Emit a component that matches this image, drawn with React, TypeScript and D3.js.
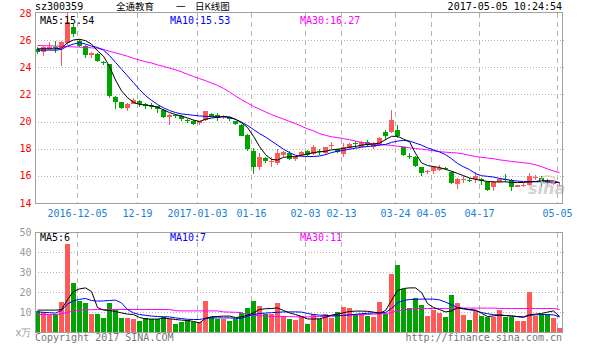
import * as d3 from "d3";

// trading days shown (88 sessions)
const dates = [
  "2016-11-24", "2016-11-25", "2016-11-28", "2016-11-29", "2016-11-30", "2016-12-01", "2016-12-02",
  "2016-12-05", "2016-12-06", "2016-12-07", "2016-12-08", "2016-12-09", "2016-12-12", "2016-12-13", "2016-12-14", "2016-12-15", "2016-12-16",
  "2016-12-19", "2016-12-20", "2016-12-21", "2016-12-22", "2016-12-23", "2016-12-26", "2016-12-27", "2016-12-28", "2016-12-29", "2016-12-30",
  "2017-01-03", "2017-01-04", "2017-01-05", "2017-01-06", "2017-01-09", "2017-01-10", "2017-01-11", "2017-01-12", "2017-01-13",
  "2017-01-16", "2017-01-17", "2017-01-18", "2017-01-19", "2017-01-20", "2017-01-23", "2017-01-24", "2017-01-25", "2017-01-26",
  "2017-02-03", "2017-02-06", "2017-02-07", "2017-02-08", "2017-02-09", "2017-02-10",
  "2017-02-13", "2017-02-14", "2017-02-15", "2017-02-16", "2017-02-17", "2017-02-20", "2017-02-21", "2017-02-22", "2017-02-23",
  "2017-03-24", "2017-03-27", "2017-03-28", "2017-03-29", "2017-03-30", "2017-03-31",
  "2017-04-05", "2017-04-06", "2017-04-07", "2017-04-10", "2017-04-11", "2017-04-12", "2017-04-13", "2017-04-14",
  "2017-04-17", "2017-04-18", "2017-04-19", "2017-04-20", "2017-04-21", "2017-04-24", "2017-04-25", "2017-04-26", "2017-04-27", "2017-04-28",
  "2017-05-02", "2017-05-03", "2017-05-04", "2017-05-05",
];

const open = [
  25.4, 25.2, 25.36, 25.55, 25.45, 25.8, 27.0, 26.0, 25.6, 24.95,
  25.05, 24.45, 24.25, 21.85, 21.5, 21.05, 21.35, 21.55, 21.35, 21.28,
  21.15, 20.9, 20.37, 20.5, 20.42, 20.15, 20.05, 19.93, 20.17, 20.62,
  20.5, 20.35, 20.35, 20.05, 19.8, 19.05, 17.9, 16.67, 17.35, 17.12,
  16.96, 17.55, 17.7, 17.28, 17.58, 17.9, 17.65, 17.85, 17.75, 18.28,
  18.0, 17.63, 18.07, 18.47, 18.2, 18.52, 18.2, 18.32, 19.3, 19.3,
  19.38, 18.15, 17.5, 17.46, 16.67, 16.33, 16.4, 16.5, 16.62, 16.35,
  15.43, 15.78, 15.75, 15.8, 15.78, 15.6, 15.18, 15.6, 15.8, 15.73,
  15.23, 15.34, 15.36, 15.88, 15.9, 15.68, 15.43, 15.34,
];
const high = [
  25.5, 25.6, 25.9, 25.95, 26.0, 28.1, 27.2, 26.1, 25.7, 25.2,
  25.1, 24.5, 24.3, 21.9, 21.5, 21.4, 21.75, 21.6, 21.4, 21.4,
  21.2, 20.95, 20.6, 20.6, 20.5, 20.25, 20.15, 20.1, 20.85, 20.7,
  20.65, 20.5, 20.4, 20.1, 19.85, 19.1, 18.1, 17.75, 17.4, 17.45,
  18.0, 17.85, 17.85, 17.5, 17.9, 17.95, 18.3, 18.05, 18.2, 18.55,
  18.05, 18.45, 18.45, 18.6, 18.6, 18.65, 18.5, 18.9, 19.4, 20.9,
  19.75, 18.2, 17.75, 17.5, 16.7, 16.5, 16.75, 16.8, 16.7, 16.4,
  15.85, 16.0, 15.9, 16.3, 15.85, 15.65, 15.65, 15.85, 16.17, 15.8,
  15.4, 15.52, 16.27, 16.1, 16.05, 15.8, 15.65, 15.5,
];
const low = [
  25.0, 24.9, 25.3, 25.1, 24.1, 25.7, 26.3, 25.5, 24.75, 24.75,
  24.4, 24.2, 21.8, 20.95, 20.95, 20.85, 21.3, 21.1, 21.0, 20.95,
  20.65, 20.3, 19.75, 20.3, 20.1, 19.95, 19.75, 19.8, 20.1, 20.35,
  20.1, 20.25, 20.1, 19.75, 18.95, 17.85, 16.2, 16.45, 16.95, 16.7,
  16.85, 17.45, 17.2, 17.15, 17.5, 17.5, 17.55, 17.6, 17.6, 18.0,
  17.7, 17.45, 18.0, 18.1, 18.15, 18.2, 18.0, 18.25, 18.7, 19.2,
  18.85, 17.5, 17.25, 16.7, 16.0, 16.15, 16.2, 16.4, 16.45, 15.45,
  15.05, 15.5, 15.55, 15.5, 15.4, 14.9, 14.9, 15.55, 15.6, 14.9,
  15.2, 15.18, 15.3, 15.7, 15.25, 15.4, 15.35, 15.2,
];
const close = [
  25.15, 25.5, 25.53, 25.45, 25.9, 27.4, 26.5, 25.6, 24.95, 25.1,
  24.5, 24.35, 21.95, 21.45, 21.05, 21.35, 21.6, 21.3, 21.2, 21.1,
  20.95, 20.35, 20.55, 20.45, 20.2, 20.1, 19.85, 20.05, 20.8, 20.4,
  20.3, 20.45, 20.2, 19.85, 19.0, 18.05, 16.7, 17.45, 17.15, 17.15,
  17.7, 17.78, 17.3, 17.45, 17.83, 17.6, 18.15, 17.8, 18.15, 18.32,
  17.8, 18.15, 18.37, 18.43, 18.52, 18.32, 18.45, 18.8, 19.0, 20.17,
  18.95, 17.6, 17.45, 16.77, 16.22, 16.37, 16.67, 16.6, 16.58, 15.53,
  15.8, 15.82, 15.71, 16.0, 15.68, 15.0, 15.6, 15.78, 15.75, 15.23,
  15.36, 15.37, 16.0, 15.92, 15.65, 15.62, 15.6, 15.38,
];

// price moving averages
const ma5 = [
  25.4, 25.4, 25.4, 25.4, 25.45, 25.85, 26.05, 26.1, 26.0, 25.75,
  25.25, 24.85, 24.1, 23.1, 22.3, 21.8, 21.45, 21.3, 21.25, 21.2,
  21.1, 20.9, 20.7, 20.55, 20.45, 20.3, 20.15, 20.05, 20.2, 20.3,
  20.35, 20.4, 20.38, 20.2, 19.95, 19.6, 18.95, 18.2, 17.6, 17.25,
  17.2, 17.4, 17.45, 17.45, 17.55, 17.65, 17.75, 17.8, 17.85, 17.95,
  18.0, 18.05, 18.15, 18.2, 18.3, 18.35, 18.38, 18.45, 18.7, 18.95,
  18.95, 18.75, 18.55, 17.7, 17.0, 16.8, 16.72, 16.65, 16.52, 16.38,
  16.22, 16.05, 15.88, 15.78, 15.7, 15.62, 15.6, 15.58, 15.6, 15.55,
  15.55, 15.55, 15.6, 15.62, 15.68, 15.68, 15.66, 15.54,
];
const ma10 = [
  25.3, 25.3, 25.3, 25.3, 25.35, 25.6, 25.75, 25.85, 25.75, 25.6,
  25.5, 25.3, 24.9, 24.4, 23.9, 23.4, 22.9, 22.4, 21.95, 21.6,
  21.3, 21.05, 20.85, 20.7, 20.6, 20.55, 20.5, 20.45, 20.42, 20.4,
  20.4, 20.38, 20.35, 20.2, 20.0, 19.75, 19.45, 19.15, 18.9, 18.6,
  18.3, 18.0, 17.75, 17.55, 17.48, 17.46, 17.46, 17.5, 17.6, 17.75,
  17.85, 17.92, 18.0, 18.07, 18.15, 18.2, 18.25, 18.3, 18.35, 18.5,
  18.6, 18.65, 18.6, 18.45, 18.3, 18.1, 17.95, 17.8, 17.6, 17.3,
  16.95, 16.7, 16.5, 16.2, 16.05, 16.0, 15.95, 15.85, 15.78, 15.7,
  15.65, 15.62, 15.6, 15.6, 15.6, 15.58, 15.56, 15.53,
];
const ma30 = [
  25.65, 25.63, 25.62, 25.6, 25.58, 25.56, 25.54, 25.52, 25.5, 25.47,
  25.44, 25.35, 25.22, 25.1, 24.98, 24.85, 24.7, 24.57, 24.45, 24.35,
  24.22, 24.1, 23.98, 23.85, 23.7, 23.52, 23.36, 23.2, 23.05, 22.88,
  22.7, 22.48, 22.22, 21.92, 21.65, 21.4, 21.15, 20.95, 20.75, 20.55,
  20.38, 20.22, 20.05, 19.88, 19.7, 19.5, 19.35, 19.15, 19.02, 18.92,
  18.85, 18.78, 18.7, 18.6, 18.5, 18.45, 18.4, 18.35, 18.32, 18.28,
  18.22, 18.18, 18.1, 18.05, 18.0, 17.95, 17.88, 17.82, 17.78, 17.75,
  17.72, 17.65, 17.55, 17.46, 17.4, 17.35, 17.3, 17.22, 17.16, 17.1,
  17.05, 17.0, 16.95, 16.85, 16.72, 16.55, 16.4, 16.27,
];

// volume, in 万 shares
const vol = [
  10.8, 10.3, 8.7, 9.2, 15.3, 44.2, 24.8, 15.7, 14.7, 9.2,
  9.2, 7.3, 14.7, 11.3, 7.3, 7.3, 6.7, 5.8, 7.3, 6.8,
  6.7, 7.7, 6.8, 4.2, 5.3, 6.2, 5.3, 5.3, 15.7, 7.8,
  6.7, 6.7, 5.7, 6.7, 10, 12.5, 15.7, 13.2, 9.2, 9.5,
  14.7, 8.3, 6.7, 6.2, 8.2, 4.2, 9.2, 7, 9.5, 7.5,
  10.2, 12.7, 12.2, 9.5, 9.2, 8.3, 7.7, 15.2, 9.2, 29.2,
  33.7, 21.7, 12.2, 17.2, 13.7, 8.2, 11.5, 9.8, 7.8, 18.7,
  14.7, 8.7, 6.2, 10.8, 8.2, 7.7, 7.8, 11.2, 7.7, 7.7,
  5.8, 5.8, 20.2, 8.2, 9.2, 9.5, 7.2, 2.2,
];
const vma5 = [
  11.2, 11.2, 11.2, 11.2, 11.4, 16.5, 20.5, 21.8, 22.3, 20.5,
  12.5, 11.2, 11.0, 10.5, 9.8, 9.2, 9.0, 7.5, 6.8, 6.7,
  6.7, 7.2, 6.9, 6.5, 6.2, 6.0, 5.5, 4.8, 7.0, 7.9,
  8.0, 8.2, 8.2, 7.5, 7.8, 8.7, 9.8, 11.5, 11.9, 12.0,
  12.3, 11.0, 9.8, 9.0, 8.0, 6.8, 6.7, 6.9, 7.6, 8.7,
  9.2, 9.9, 10.5, 10.7, 10.7, 10.6, 10.2, 9.6, 11.0, 16.0,
  21.0, 22.0, 22.3, 22.3, 20.0, 14.5, 12.5, 11.5, 10.3, 10.8,
  12.3, 11.8, 11.4, 11.2, 9.6, 8.0, 8.3, 8.7, 8.5, 8.2,
  8.0, 7.8, 8.8, 9.2, 9.5, 10.2, 10.8, 8.0,
];
const vma10 = [
  10.3, 10.1, 9.9, 9.7, 11.0, 14.3, 15.8, 16.6, 17.0, 16.0,
  15.7, 15.8, 16.0, 16.2, 14.8, 11.5, 9.8, 9.0, 8.6, 8.2,
  8.0, 7.9, 7.8, 7.3, 7.0, 6.6, 6.5, 6.5, 7.1, 7.3,
  7.3, 7.3, 7.3, 7.1, 7.0, 8.2, 9.0, 9.5, 9.7, 9.9,
  10.1, 10.3, 10.3, 10.3, 10.2, 9.5, 9.0, 8.7, 8.5, 8.3,
  8.4, 8.6, 8.8, 9.1, 9.4, 9.6, 9.8, 9.9, 10.0, 12.0,
  14.8, 16.0, 16.5, 16.6, 16.7, 16.7, 16.7, 16.3, 15.2, 13.9,
  12.5, 12.0, 11.4, 11.0, 10.0, 9.4, 8.9, 8.7, 8.5, 8.3,
  7.9, 7.6, 8.6, 8.8, 9.0, 8.9, 8.8, 7.8,
];
const vma30 = [
  9.0, 9.0, 9.0, 9.0, 9.4, 10.0, 10.8, 11.2, 11.3, 11.4,
  11.5, 11.5, 11.5, 11.5, 11.5, 11.5, 11.5, 11.5, 11.5, 11.5,
  11.5, 11.5, 11.5, 10.9, 10.8, 10.8, 10.8, 10.8, 10.8, 10.8,
  10.8, 10.3, 10.2, 10.1, 10.0, 8.8, 8.6, 8.4, 8.2, 8.1,
  8.0, 8.0, 7.9, 7.9, 7.8, 7.8, 7.9, 8.0, 8.1, 8.3,
  8.4, 8.5, 8.7, 8.8, 8.9, 9.0, 9.2, 9.3, 9.5, 10.0,
  10.8, 11.3, 11.7, 12.0, 12.0, 12.0, 12.0, 12.0, 12.0, 12.0,
  12.3, 12.2, 12.2, 12.2, 12.2, 12.2, 12.2, 12.0, 12.0, 12.0,
  12.0, 12.0, 12.0, 12.0, 12.0, 12.0, 12.0, 11.5,
];

const tickDates = [
  "2016-12-05", "2016-12-19", "2017-01-03", "2017-01-16", "2017-02-03",
  "2017-02-13", "2017-03-24", "2017-04-05", "2017-04-17", "2017-05-05",
];
const tickLabels = ["2016-12-05", "12-19", "2017-01-03", "01-16", "02-03", "02-13", "03-24", "04-05", "04-17", "05-05"];
const priceTicks = [14, 16, 18, 20, 22, 24, 26, 28];
const volTicks = [10, 20, 30, 40, 50];

const MONO = "'DejaVu Sans Mono', monospace";
const CJK = "'Noto Sans CJK SC', sans-serif";
const RED = "#ff5a5a";
const GREEN = "#00a400";
const GRID = "#b4b4b4";
const FRAME = "#a0a0a0";

export default function App() {
  const left = 35;
  const right = 562.5;

  const x = d3
    .scaleBand<string>()
    .domain(dates)
    .range([left, left + 6 * dates.length])
    .padding(0);
  const cx = (i: number) => (x(dates[i]) ?? 0) + 2.5;

  const y = d3.scaleLinear().domain([14, 28]).range([203.5, 13.5]);
  const yv = d3.scaleLinear().domain([0, 50]).range([332.5, 232.5]);

  const priceLine = d3
    .line<number>()
    .x((_, i) => cx(i))
    .y((v) => y(v));
  const volLine = d3
    .line<number>()
    .x((_, i) => cx(i))
    .y((v) => yv(v));

  const px = (v: number) => Math.floor(v) + 0.5;

  const vGrid = (y0: number, y1: number, key: string) =>
    tickDates.map((d) => (
      <line
        key={key + d}
        x1={(x(d) ?? 0) + 0.5}
        x2={(x(d) ?? 0) + 0.5}
        y1={y0}
        y2={y1}
        stroke={GRID}
        strokeDasharray="5,4"
      />
    ));

  return (
    <svg
      width={604}
      height={352}
      style={{ position: "absolute", left: 0, top: 0, background: "#fff" }}
      fontFamily={MONO}
    >
      <rect width={604} height={352} fill="#fff" />

      {/* header */}
      <text x={35} y={7} fontSize={10} dominantBaseline="middle" fill="#000">
        sz300359
      </text>
      <g fontFamily={CJK} fontSize={9.5} fill="#000" dominantBaseline="middle">
        <text x={116} y={7.4}>全通教育</text>
        <text x={176} y={7.4}>一</text>
        <text x={195} y={7.4}>日K线图</text>
      </g>
      <text x={562} y={7} fontSize={10} textAnchor="end" dominantBaseline="middle" fill="#000">
        2017-05-05 10:24:54
      </text>

      {/* price panel grid */}
      {priceTicks.slice(1, -1).map((t) => (
        <line key={"pg" + t} x1={left} x2={right + 2} y1={px(y(t))} y2={px(y(t))} stroke={GRID} strokeDasharray="1,2" />
      ))}
      {vGrid(13, 203, "pv")}

      {/* candles */}
      {dates.map((d, i) => {
        const up = close[i] >= open[i];
        const c = up ? RED : GREEN;
        const bx = x(d) ?? 0;
        const top = Math.round(y(Math.max(open[i], close[i])));
        const bot = Math.round(y(Math.min(open[i], close[i])));
        const hi = Math.round(y(high[i]));
        const lo = Math.round(y(low[i]));
        return (
          <g key={"c" + d}>
            <rect x={bx + 2} y={hi} width={1} height={Math.max(1, lo - hi)} fill={c} />
            <rect x={bx} y={top} width={5} height={Math.max(1, bot - top)} fill={c} />
          </g>
        );
      })}

      {/* moving averages */}
      <path d={priceLine(ma30) ?? ""} fill="none" stroke="#ff00ff" strokeWidth={1} />
      <path d={priceLine(ma10) ?? ""} fill="none" stroke="#0000ff" strokeWidth={1} />
      <path d={priceLine(ma5) ?? ""} fill="none" stroke="#000" strokeWidth={1} />

      {/* sina watermark */}
      <g opacity={0.75}>
        <ellipse cx={548} cy={180} rx={7} ry={4} fill="none" stroke="#f2b8b8" strokeWidth={1.5} />
        <text x={528} y={194} fontSize={16} fontStyle="italic" fontWeight="bold" fontFamily="'DejaVu Sans', sans-serif" fill="#c4c4c4">
          sina
        </text>
      </g>

      {/* price frame */}
      <rect x={35.5} y={12.5} width={right - 35.5} height={191} fill="none" stroke={FRAME} />

      {/* price axis labels */}
      {priceTicks.map((t) => (
        <text key={"pt" + t} x={31.5} y={y(t)} fontSize={10} textAnchor="end" dominantBaseline="middle" fill="#ff0000">
          {t}
        </text>
      ))}
      {tickDates.map((d, i) => (
        <text key={"xt" + d} x={(x(d) ?? 0) + 0.5} y={213.5} fontSize={10} textAnchor="middle" dominantBaseline="middle" fill="#1a7fd4">
          {tickLabels[i]}
        </text>
      ))}

      {/* price legend */}
      <text x={40} y={20.5} fontSize={10} dominantBaseline="middle" fill="#000">MA5:15.54</text>
      <text x={170} y={20.5} fontSize={10} dominantBaseline="middle" fill="#0000ff">MA10:15.53</text>
      <text x={300} y={20.5} fontSize={10} dominantBaseline="middle" fill="#ff00ff">MA30:16.27</text>

      {/* volume panel grid */}
      {volTicks.slice(0, -1).map((t) => (
        <line key={"vg" + t} x1={left} x2={right + 2} y1={px(yv(t))} y2={px(yv(t))} stroke={GRID} strokeDasharray="1,2" />
      ))}
      {vGrid(233, 332, "vv")}

      {/* volume bars */}
      {dates.map((d, i) => {
        const up = close[i] >= open[i];
        const top = Math.round(yv(vol[i]));
        return (
          <rect
            key={"v" + d}
            x={x(d) ?? 0}
            y={top}
            width={5}
            height={Math.round(yv(0)) - top}
            fill={up ? RED : GREEN}
          />
        );
      })}

      <path d={volLine(vma30) ?? ""} fill="none" stroke="#ff00ff" strokeWidth={1} />
      <path d={volLine(vma10) ?? ""} fill="none" stroke="#0000ff" strokeWidth={1} />
      <path d={volLine(vma5) ?? ""} fill="none" stroke="#000" strokeWidth={1} />

      <rect x={35.5} y={232.5} width={right - 35.5} height={100} fill="none" stroke={FRAME} />

      {volTicks.map((t) => (
        <text key={"vt" + t} x={31.5} y={yv(t)} fontSize={10} textAnchor="end" dominantBaseline="middle" fill="#999">
          {t}
        </text>
      ))}
      <text x={31.5} y={333} fontSize={10} textAnchor="end" dominantBaseline="middle" fill="#999">
        x万
      </text>

      <text x={40} y={237.5} fontSize={10} dominantBaseline="middle" fill="#000">MA5:6</text>
      <text x={170} y={237.5} fontSize={10} dominantBaseline="middle" fill="#0000ff">MA10:7</text>
      <text x={300} y={237.5} fontSize={10} dominantBaseline="middle" fill="#ff00ff">MA30:11</text>

      {/* footer */}
      <text x={35} y={338} fontSize={10} dominantBaseline="middle" fill="#777">
        Copyright 2017 SINA.COM
      </text>
      <text x={562} y={338} fontSize={10} textAnchor="end" dominantBaseline="middle" fill="#777">
        http://finance.sina.com.cn
      </text>
    </svg>
  );
}
